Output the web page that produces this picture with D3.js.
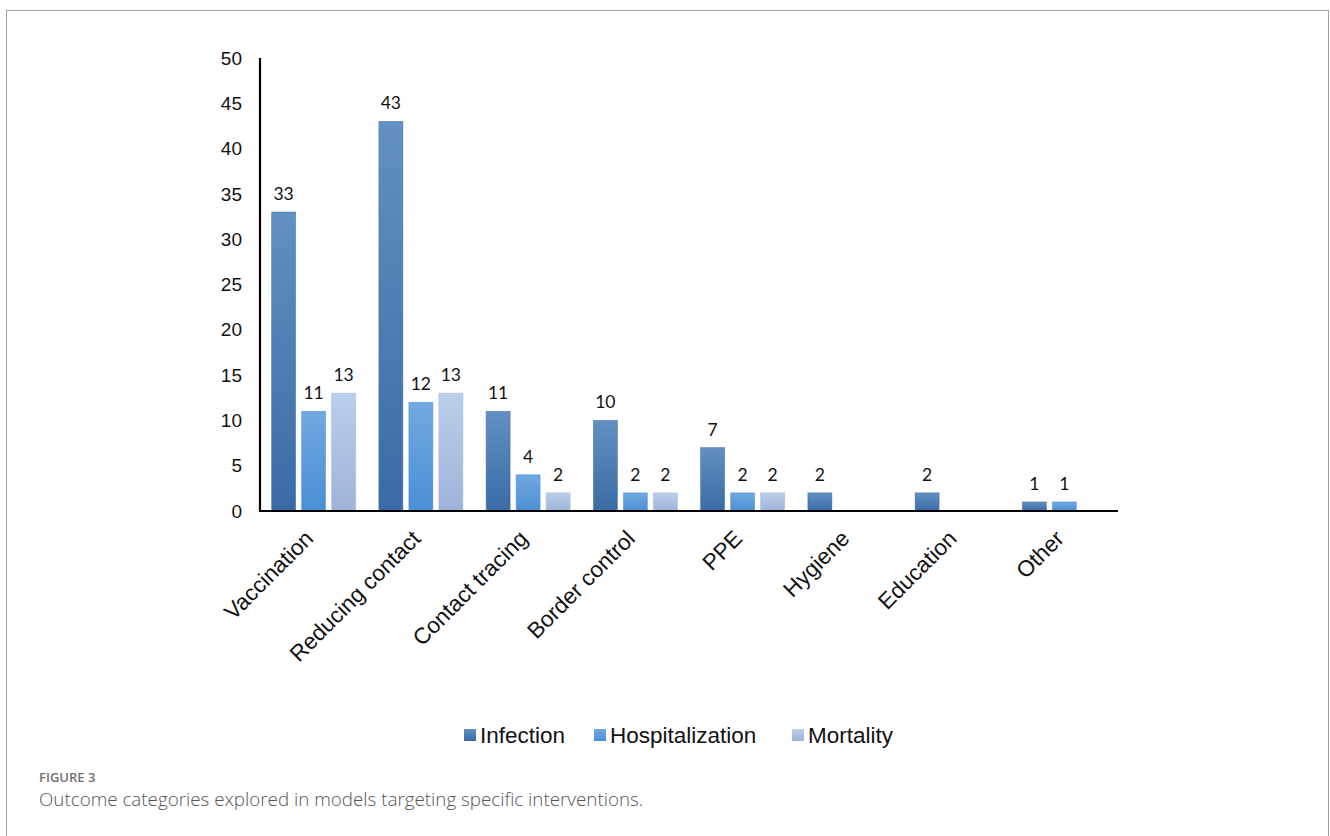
<!DOCTYPE html>
<html lang="en">
<head>
<meta charset="UTF-8">
<title>Outcome categories</title>
<script src="https://d3js.org/d3.v7.min.js"></script>
<style>
  body { margin: 0; background: #fff; }
</style>
</head>
<body>
<svg id="chart" width="1330" height="836"></svg>
<script>
const categories = ["Vaccination", "Reducing contact", "Contact tracing", "Border control", "PPE", "Hygiene", "Education", "Other"];
const seriesNames = ["Infection", "Hospitalization", "Mortality"];
const infection = [33, 43, 11, 10, 7, 2, 2, 1];
const hospitalization = [11, 12, 4, 2, 2, null, null, 1];
const mortality = [13, 13, 2, 2, 2, null, null, null];
const yTicks = [0, 5, 10, 15, 20, 25, 30, 35, 40, 45, 50];

const svg = d3.select("#chart");

// frame around the figure
svg.append("rect").attr("x", 6.5).attr("y", 10.5).attr("width", 1322).attr("height", 840)
  .attr("fill", "none").attr("stroke", "#a0a0a0").attr("stroke-width", 1);

const gradients = [
  ["#6290c2", "#3a6ba5"],
  ["#72a8e0", "#4a8fd6"],
  ["#bacfea", "#9fb3da"]
];
const defs = svg.append("defs");
gradients.forEach((g, i) => {
  const lg = defs.append("linearGradient").attr("id", "grad" + i)
    .attr("x1", 0).attr("y1", 0).attr("x2", 0).attr("y2", 1);
  lg.append("stop").attr("offset", "0%").attr("stop-color", g[0]);
  lg.append("stop").attr("offset", "100%").attr("stop-color", g[1]);
});

const x = d3.scaleBand().domain(categories).range([260, 1118]);
const y = d3.scaleLinear().domain([0, 50]).range([511, 58]);
// three bars per group, 24px wide with 6px gaps
const sub = d3.scaleBand().domain(seriesNames).range([0, 84]).paddingInner(0.2);
const groupX = c => x(c) + x.bandwidth() / 2 - 42;

const series = [infection, hospitalization, mortality];

// y axis tick labels
svg.append("g").selectAll("text").data(yTicks).join("text")
  .attr("x", 242).attr("y", d => y(d)).attr("dy", "0.35em")
  .attr("text-anchor", "end")
  .attr("font-family", "Liberation Sans, Arial, sans-serif")
  .attr("font-size", 19).attr("fill", "#111")
  .text(d => d);

// bars
series.forEach((vals, si) => {
  const data = categories.map((c, i) => ({ c, v: vals[i] })).filter(d => d.v != null);
  const g = svg.append("g");
  g.selectAll("rect").data(data).join("rect")
    .attr("x", d => groupX(d.c) + sub(seriesNames[si]))
    .attr("y", d => y(d.v))
    .attr("width", sub.bandwidth())
    .attr("height", d => y(0) - y(d.v))
    .attr("fill", `url(#grad${si})`)
    .attr("stroke", gradients[si][1]).attr("stroke-opacity", 0.6).attr("stroke-width", 0.8);
  g.selectAll("text").data(data).join("text")
    .attr("x", d => groupX(d.c) + sub(seriesNames[si]) + sub.bandwidth() / 2)
    .attr("y", d => y(d.v) - 12)
    .attr("text-anchor", "middle")
    .attr("font-family", "Lato, Carlito, Calibri, sans-serif")
    .attr("font-size", 17.5).attr("fill", "#111")
    .text(d => d.v);
});

// axis lines
svg.append("line").attr("x1", 260).attr("x2", 260).attr("y1", y(50)).attr("y2", y(0) + 1)
  .attr("stroke", "#000").attr("stroke-width", 2.2);
svg.append("line").attr("x1", 259).attr("x2", 1118).attr("y1", y(0)).attr("y2", y(0))
  .attr("stroke", "#000").attr("stroke-width", 2.2);

// category labels
svg.append("g").selectAll("text").data(categories).join("text")
  .attr("transform", d => `translate(${x(d) + x.bandwidth() / 2 + 1},${y(0) + 29}) rotate(-45)`)
  .attr("text-anchor", "end")
  .attr("font-family", "Liberation Sans, Arial, sans-serif")
  .attr("font-size", 22.5).attr("fill", "#111")
  .text(d => d);

// legend
const legendX = [464, 594, 792];
const legend = svg.append("g");
seriesNames.forEach((s, i) => {
  legend.append("rect").attr("x", legendX[i]).attr("y", 729).attr("width", 12).attr("height", 12)
    .attr("fill", `url(#grad${i})`);
  legend.append("text").attr("x", legendX[i] + 16).attr("y", 735).attr("dy", "0.35em")
    .attr("font-family", "Liberation Sans, Arial, sans-serif")
    .attr("font-size", 22.5).attr("fill", "#111").text(s);
});

// caption
svg.append("text").attr("x", 39).attr("y", 782)
  .attr("font-family", "Open Sans, sans-serif").attr("font-weight", 600).attr("font-size", 13)
  .attr("fill", "#707070").text("FIGURE 3");
svg.append("text").attr("x", 39).attr("y", 806)
  .attr("font-family", "Open Sans, sans-serif").attr("font-weight", 300).attr("font-size", 18.8)
  .attr("fill", "#555").text("Outcome categories explored in models targeting specific interventions.");
</script>
</body>
</html>
